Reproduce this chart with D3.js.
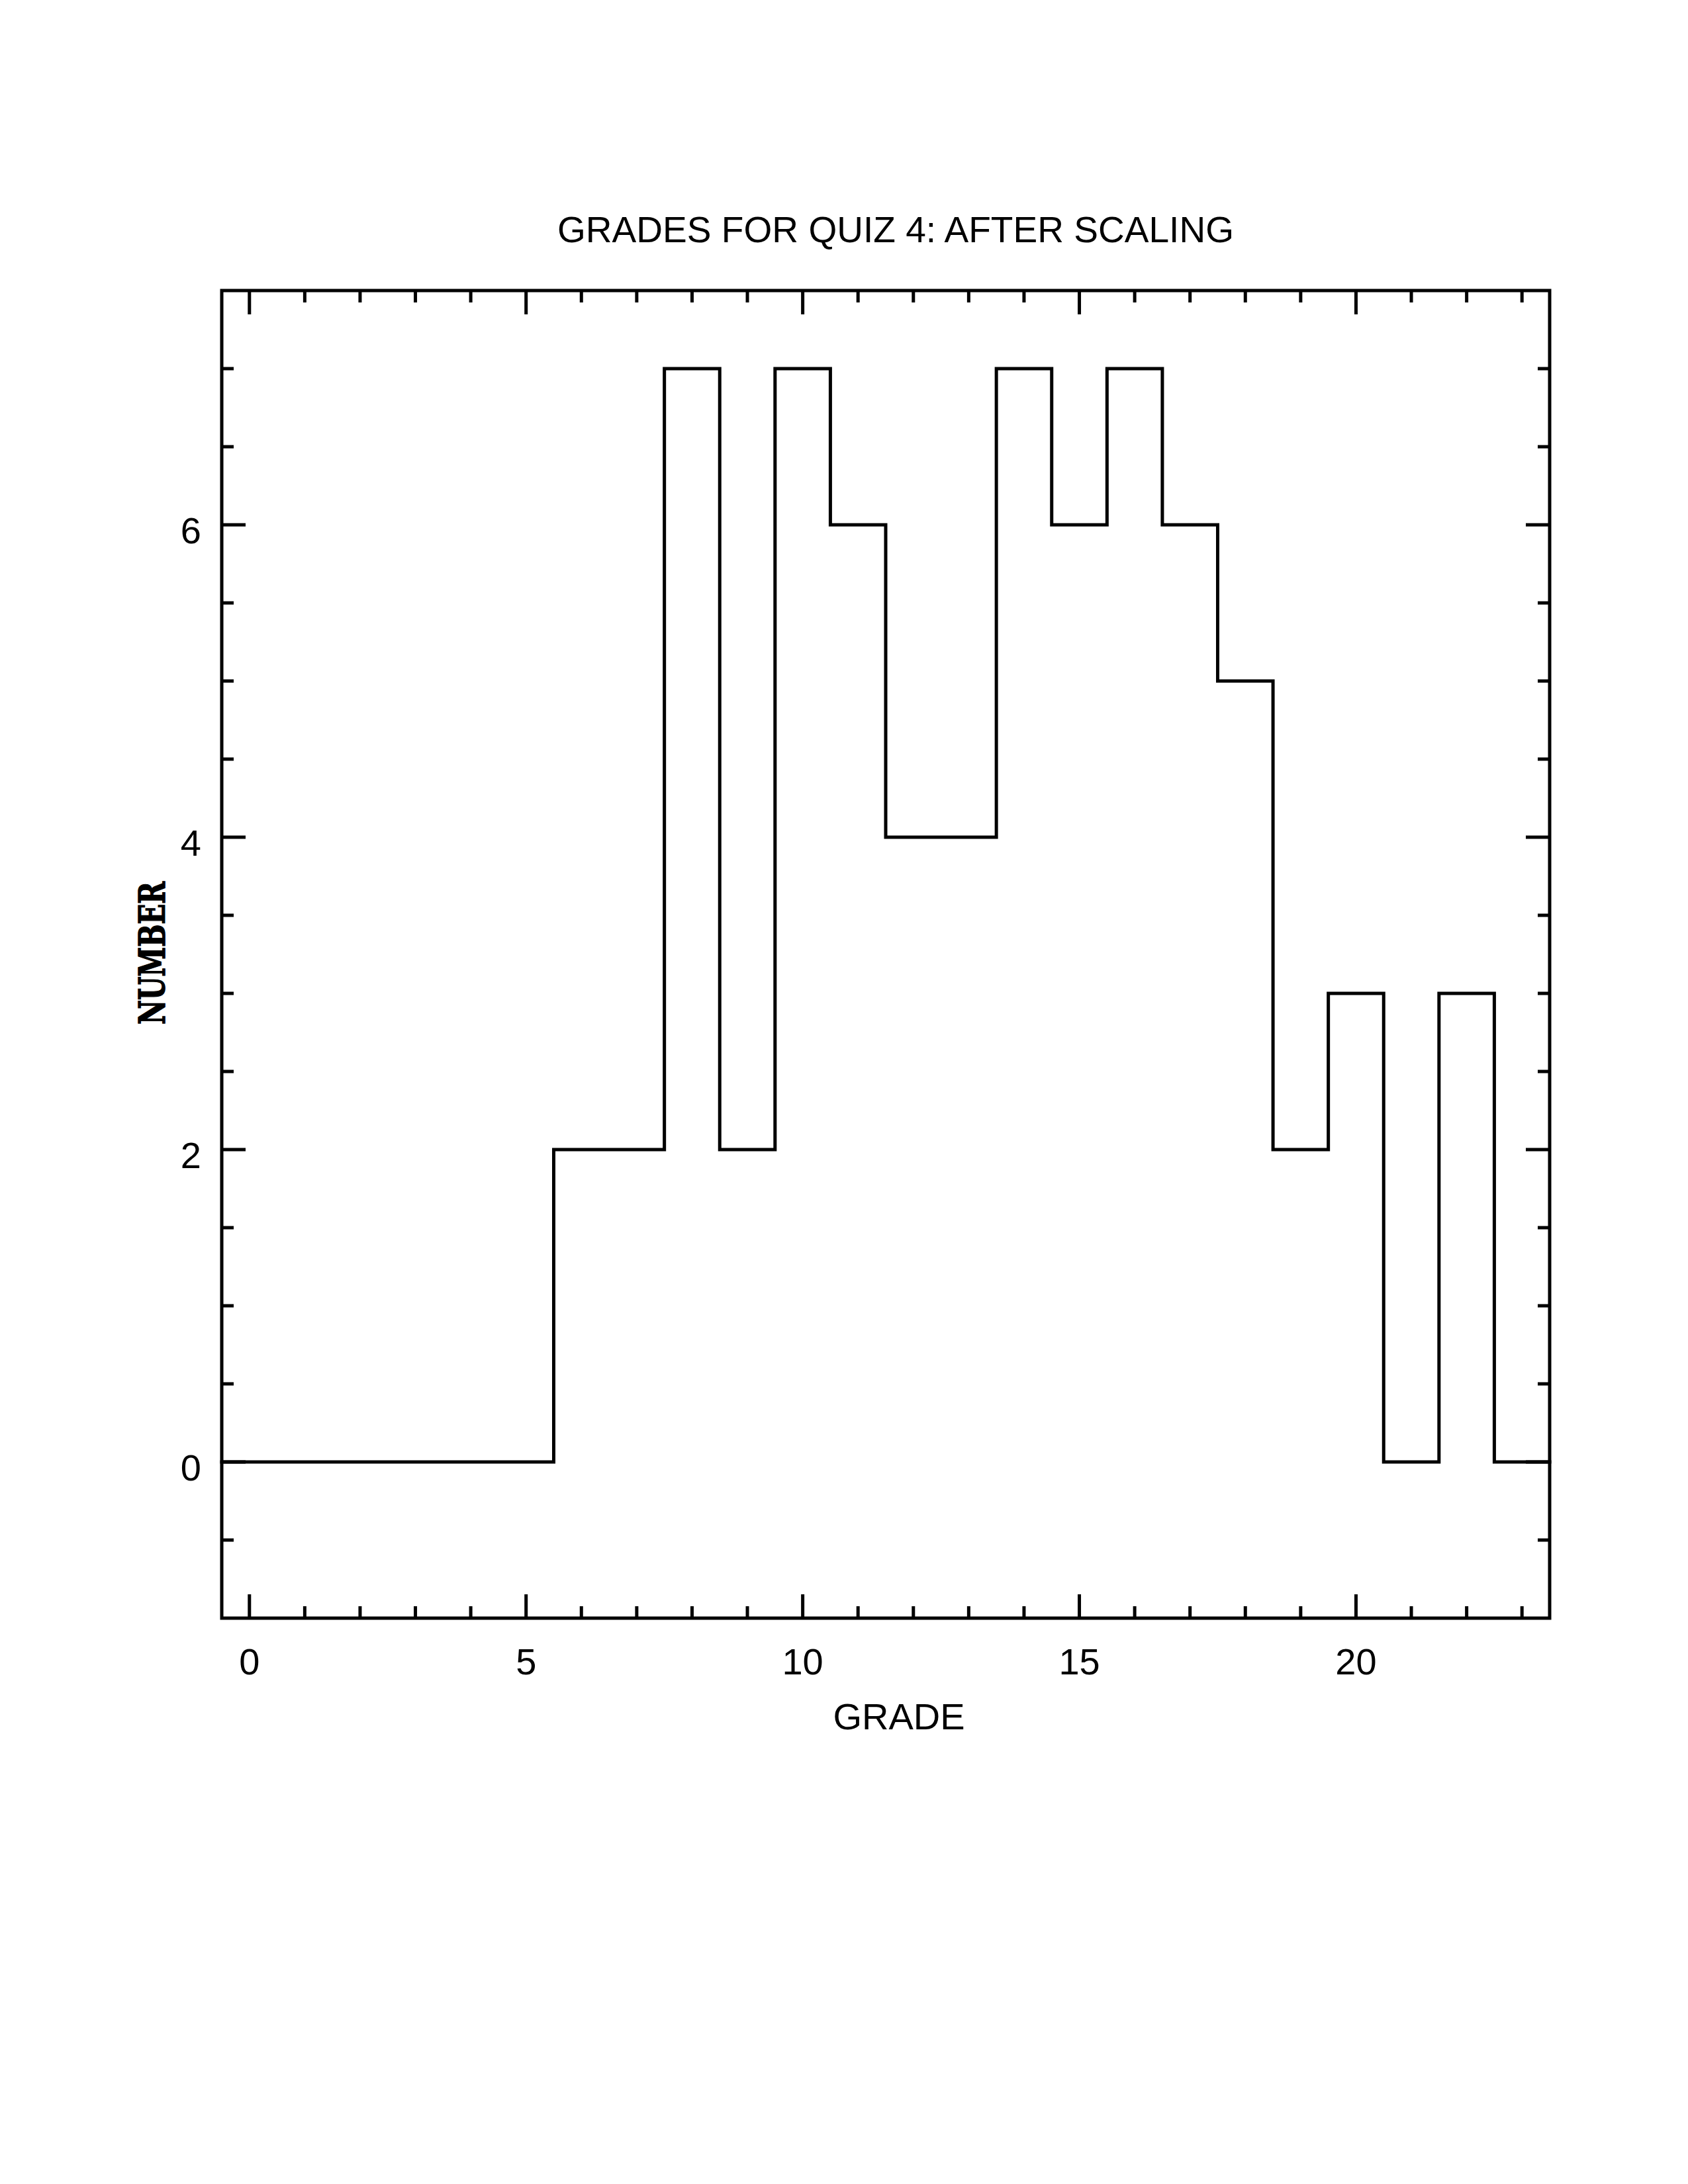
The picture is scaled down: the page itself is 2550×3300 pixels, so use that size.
<!DOCTYPE html>
<html>
<head>
<meta charset="UTF-8">
<title>Grades for Quiz 4</title>
<style>
    body { margin: 0; padding: 0; background: #ffffff; }
    svg { display: block; }
</style>
<script src="https://d3js.org/d3.v7.min.js"></script>
</head>
<body>
<script>
// data: number of students per grade (bins centred on each grade)
const grades = [0, 1, 2, 3, 4, 5, 6, 7, 8, 9, 10, 11, 12, 13, 14, 15, 16, 17, 18, 19, 20, 21, 22, 23];
const counts = [0, 0, 0, 0, 0, 0, 2, 2, 7, 2, 7, 6, 4, 4, 7, 6, 7, 6, 5, 2, 3, 0, 3, 0];
const xTickLabels = [0, 5, 10, 15, 20];
const yTickLabels = [0, 2, 4, 6];

const width = 2550;
const height = 3300;

// plot frame
const frameL = 335, frameR = 2341, frameT = 439, frameB = 2445;

const x = d3.scaleLinear().domain([-0.5, 23.5]).range([frameL, frameR]);
const y = d3.scaleLinear().domain([-1, 7.5]).range([frameB, frameT]);

const svg = d3.select("body").append("svg")
    .attr("width", width)
    .attr("height", height);

const font = "'Liberation Sans', Arial, Helvetica, sans-serif";
const lw = 5;

// ticks: major/minor, drawn inward on all four sides
const xMinor = d3.range(0, 24, 1);
const yMinor = d3.range(-0.5, 7.5, 0.5);
const ticks = svg.append("g").attr("stroke", "#000").attr("stroke-width", lw);

xMinor.forEach(v => {
    const len = xTickLabels.includes(v) ? 36 : 18;
    ticks.append("line").attr("x1", x(v)).attr("x2", x(v)).attr("y1", frameB).attr("y2", frameB - len);
    ticks.append("line").attr("x1", x(v)).attr("x2", x(v)).attr("y1", frameT).attr("y2", frameT + len);
});
yMinor.forEach(v => {
    const len = yTickLabels.includes(v) ? 36 : 18;
    ticks.append("line").attr("y1", y(v)).attr("y2", y(v)).attr("x1", frameL).attr("x2", frameL + len);
    ticks.append("line").attr("y1", y(v)).attr("y2", y(v)).attr("x1", frameR).attr("x2", frameR - len);
});

// frame
svg.append("rect")
    .attr("x", frameL).attr("y", frameT)
    .attr("width", frameR - frameL).attr("height", frameB - frameT)
    .attr("fill", "none")
    .attr("stroke", "#000")
    .attr("stroke-width", lw);

// histogram as a step line from bin edge to bin edge
const edges = grades.map((g, i) => [g - 0.5, counts[i]]);
edges.push([grades[grades.length - 1] + 0.5, counts[counts.length - 1]]);

const line = d3.line()
    .x(d => x(d[0]))
    .y(d => y(d[1]))
    .curve(d3.curveStepAfter);

svg.append("path")
    .datum(edges)
    .attr("d", line)
    .attr("fill", "none")
    .attr("stroke", "#000")
    .attr("stroke-width", lw)
    .attr("stroke-linejoin", "miter")
    .attr("stroke-linecap", "square");

// tick labels
svg.append("g").selectAll("text")
    .data(xTickLabels)
    .enter().append("text")
    .attr("x", d => x(d))
    .attr("y", frameB + 85)
    .attr("text-anchor", "middle")
    .attr("font-family", font)
    .attr("font-size", 56)
    .text(d => d);

svg.append("g").selectAll("text")
    .data(yTickLabels)
    .enter().append("text")
    .attr("x", 304)
    .attr("y", d => y(d) + 28)
    .attr("text-anchor", "end")
    .attr("font-family", font)
    .attr("font-size", 56)
    .text(d => d);

// title
svg.append("text")
    .attr("x", 1353)
    .attr("y", 366)
    .attr("text-anchor", "middle")
    .attr("font-family", font)
    .attr("font-size", 55)
    .attr("textLength", 1022)
    .attr("lengthAdjust", "spacingAndGlyphs")
    .text("GRADES FOR QUIZ 4: AFTER SCALING");

// axis labels
svg.append("text")
    .attr("x", 1358)
    .attr("y", 2613)
    .attr("text-anchor", "middle")
    .attr("font-family", font)
    .attr("font-size", 56)
    .text("GRADE");

svg.append("text")
    .attr("transform", "translate(249,1440) rotate(-90)")
    .attr("text-anchor", "middle")
    .attr("font-family", "'DejaVu Serif', serif")
    .attr("font-weight", "bold")
    .attr("font-size", 54)
    .attr("stroke", "#000")
    .attr("stroke-width", 1.5)
    .attr("textLength", 216)
    .attr("lengthAdjust", "spacingAndGlyphs")
    .text("NUMBER");
</script>
</body>
</html>
